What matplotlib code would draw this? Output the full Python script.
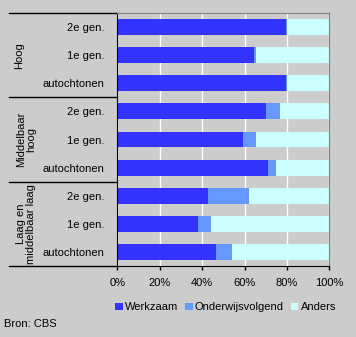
import numpy as np
import matplotlib.pyplot as plt
from matplotlib.transforms import blended_transform_factory

plt.rcParams['font.family'] = ['Liberation Sans', 'DejaVu Sans']
plt.rcParams['font.size'] = 8

# data (percentages)
labels = ["2e gen.", "1e gen.", "autochtonen",
          "2e gen.", "1e gen.", "autochtonen",
          "2e gen.", "1e gen.", "autochtonen"]
groups = ["Hoog", "Middelbaar\nhoog", "Laag en\nmiddelbaar laag"]
werkzaam = np.array([79.7, 64.5, 79.7, 70.1, 59.3, 71.0, 42.8, 38.1, 46.6])
onderwijs = np.array([0.3, 0.9, 0.3, 6.6, 6.1, 3.8, 19.3, 6.1, 7.5])
anders = 100 - werkzaam - onderwijs

bg = '#cccccc'
fig = plt.figure(figsize=(3.56, 3.37), dpi=100, facecolor=bg)
ax = fig.add_axes([0.3295, 0.2116, 0.5955, 0.7489], facecolor=bg)

y = np.arange(len(labels))
h = 0.57
ax.barh(y, werkzaam, height=h, color='#3333ff', label='Werkzaam', zorder=2)
ax.barh(y, onderwijs, left=werkzaam, height=h, color='#6699ff',
        label='Onderwijsvolgend', zorder=2)
ax.barh(y, anders, left=werkzaam + onderwijs, height=h, color='#ccffff',
        label='Anders', zorder=2)

ax.set_xlim(0, 100)
ax.set_ylim(8.5, -0.5)
ax.set_xticks(np.arange(0, 101, 20))
ax.set_xticklabels([f"{v}%" for v in range(0, 101, 20)])
ax.set_yticks(y)
ax.set_yticklabels(labels)
ax.tick_params(axis='y', length=0, pad=9)
ax.tick_params(axis='x', length=3, width=1, pad=6, direction='out')
ax.xaxis.grid(True, color='white', linewidth=1, zorder=1)
ax.set_axisbelow(True)

for s in ['top', 'right']:
    ax.spines[s].set_color('#808080')
for s in ['left', 'bottom']:
    ax.spines[s].set_color('black')

# group separators and labels
tr = blended_transform_factory(ax.transAxes, ax.transData)
x0 = (9 - 117.3) / 212
for yy in [-0.5, 2.5, 5.5, 8.5]:
    ax.plot([x0, 0], [yy, yy], color='black', linewidth=1, transform=tr,
            clip_on=False)
gx = [-0.464, -0.43, -0.43]
for i, g in enumerate(groups):
    ax.text(gx[i], 3 * i + 1, g, rotation=90, ha='center', va='center',
            multialignment='center', transform=tr, linespacing=1.05)

ax.legend(loc='center', bbox_to_anchor=(0.51, -0.165), ncol=3, frameon=False,
          handlelength=0.7, handleheight=0.7, handletextpad=0.2,
          columnspacing=0.6, borderaxespad=0)

fig.text(4 / 356, 1 - 324 / 337, "Bron: CBS", ha='left', va='center')

fig.savefig('out.png', dpi=100, facecolor=bg)
